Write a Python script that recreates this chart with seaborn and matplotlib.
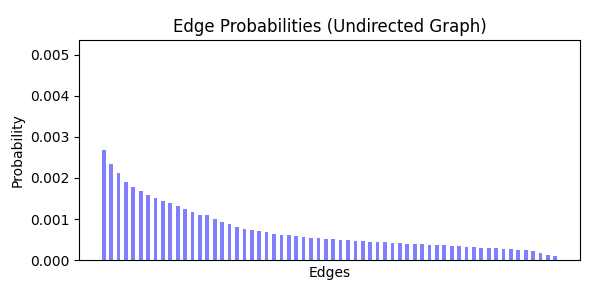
import numpy as np
import pandas as pd
import seaborn as sns
import matplotlib.pyplot as plt

# sorted edge probabilities
probs = [
    0.00268, 0.00234, 0.00213, 0.00191, 0.00178, 0.00168, 0.00159, 0.00151,
    0.00145, 0.00139, 0.00131, 0.00125, 0.00117, 0.00111, 0.00109, 0.00101,
    0.00094, 0.00087, 0.00081, 0.00077, 0.00074, 0.00070, 0.00068, 0.00064,
    0.00062, 0.00061, 0.00058, 0.00056, 0.00054, 0.00053, 0.00051, 0.00051,
    0.00048, 0.00048, 0.00047, 0.00046, 0.00045, 0.00044, 0.00044, 0.00042,
    0.00041, 0.00040, 0.00039, 0.00039, 0.00036, 0.00036, 0.00036, 0.00034,
    0.00034, 0.00033, 0.00031, 0.00030, 0.00029, 0.00029, 0.00027, 0.00027,
    0.00024, 0.00024, 0.00022, 0.00017, 0.00013, 0.00010,
]
edges = [f"e{i}" for i in range(len(probs))]

df = pd.DataFrame({"Edge": edges, "Probability": probs})

fig, ax = plt.subplots(figsize=(5.9, 2.9), dpi=100)
sns.barplot(data=df, x="Edge", y="Probability", color="blue", alpha=0.5,
            saturation=1, width=0.5, ax=ax)

n = len(probs)
span = (n - 1) + 0.5
pad = 0.05 * span
ax.set_xlim(-0.25 - pad, n - 1 + 0.25 + pad)
ax.set_ylim(0, max(probs) * 2)
ax.set_xticks([])
ax.set_xlabel("Edges")
ax.set_ylabel("Probability")
ax.set_title("Edge Probabilities (Undirected Graph)")

plt.subplots_adjust(left=0.134, right=0.983, top=0.862, bottom=0.103)
plt.savefig("out.png")
